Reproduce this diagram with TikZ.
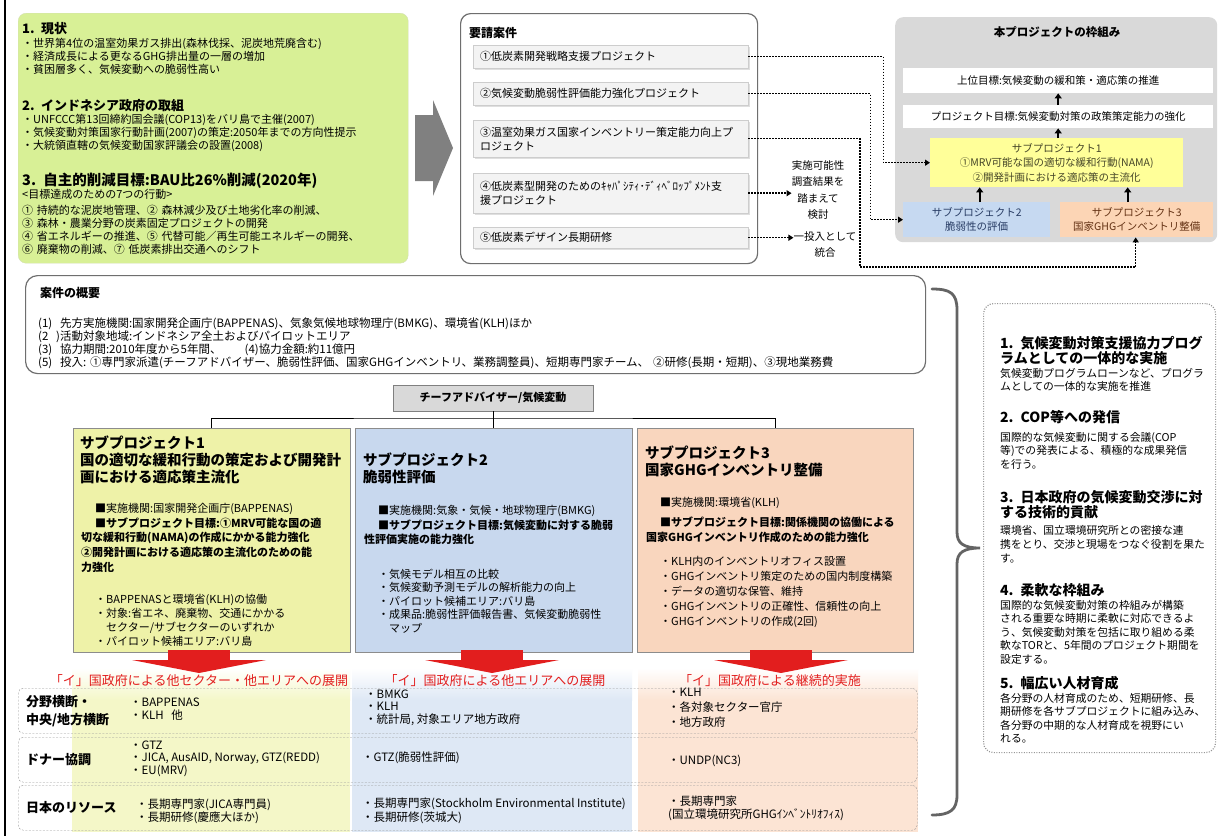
\documentclass[tikz,border=0pt]{standalone}
\usepackage{fontspec}
\setmainfont{Noto Sans CJK JP}
\usetikzlibrary{arrows.meta,calc,shadows}
\newcommand\myfs[2]{\fontsize{#1}{#2}\selectfont}
\definecolor{cGreen}{RGB}{216,240,150}
\definecolor{cArrow}{RGB}{128,128,128}
\definecolor{cReqB}{RGB}{110,110,110}
\definecolor{cItem}{RGB}{243,243,243}
\definecolor{cItemB}{RGB}{205,205,205}
\definecolor{cFw}{RGB}{217,217,217}
\definecolor{cYel}{RGB}{255,255,153}
\definecolor{cBlu}{RGB}{198,217,241}
\definecolor{cOra}{RGB}{252,213,181}
\definecolor{cYelT}{RGB}{70,70,40}
\definecolor{cBluT}{RGB}{40,60,100}
\definecolor{cOraT}{RGB}{100,50,20}
\definecolor{cSp1}{RGB}{238,242,168}
\definecolor{cSp2}{RGB}{200,216,238}
\definecolor{cSp3}{RGB}{249,214,190}
\definecolor{cSpB}{RGB}{140,140,140}
\definecolor{cT1}{RGB}{244,247,200}
\definecolor{cT2}{RGB}{222,232,245}
\definecolor{cT3}{RGB}{252,228,212}
\definecolor{cRed}{RGB}{226,30,30}
\definecolor{cBrace}{RGB}{100,100,100}
\definecolor{cDash}{RGB}{150,150,150}
\definecolor{cChief}{RGB}{217,217,217}
\begin{document}
\begin{tikzpicture}[x=1pt,y=-1pt,
 txt/.style={inner sep=0pt, align=left, anchor=base west},
 box/.style={anchor=north west, inner sep=0pt},
 dotline/.style={line width=1.5pt, dash pattern=on 1.5pt off 1.5pt, -{Triangle[length=5pt,width=6pt]}},
 uparr/.style={line width=2pt, -{Triangle[length=5pt,width=7pt]}},
 item/.style={draw=cItemB, fill=cItem, anchor=north west, align=left, inner xsep=7pt, inner ysep=0pt, text width=261pt, font=\myfs{11}{14}, drop shadow={shadow xshift=1.5pt, shadow yshift=-1.5pt, opacity=0.25}},
 fbox/.style={anchor=north west, align=center, inner sep=0pt, font=\myfs{10.5}{14}},
 hd/.style={txt, text width=380pt, font=\myfs{13}{15}\bfseries},
 bd/.style={txt, text width=385pt, font=\myfs{11}{13.3}},
 sptitle/.style={txt, text width=275pt, font=\myfs{14.5}{17}\bfseries},
 spbody/.style={txt, text width=270pt, font=\myfs{11}{14.5}},
 redtxt/.style={inner sep=0pt, text=cRed, font=\myfs{13}{15}},
 row/.style={draw=cDash, dash pattern=on 2pt off 1.5pt, rounded corners=5pt, box, minimum width=899pt, minimum height=45pt},
 lbl/.style={inner sep=0pt, anchor=west, align=left, font=\myfs{13}{18}\bfseries},
 cell/.style={inner sep=0pt, anchor=west, align=left},
 rh/.style={txt, text width=225pt, font=\myfs{14}{15.5}\bfseries},
 rbd/.style={txt, text width=225pt, font=\myfs{10.8}{13.6}},
 redarrow/.pic={\fill[cRed] (-31,0) rectangle (31,11); \fill[cRed] (-67,10) -- (67,10) -- (0,23) -- cycle;}
]
\useasboundingbox (0,0) rectangle (1221,836);
\fill[white] (0,0) rectangle (1221,836);
\draw[line width=2pt] (5,0) -- (5,836);

% situation box
\node[fill=cGreen, draw=cGreen!85!black!60, rounded corners=8pt, box, minimum width=390pt, minimum height=250pt] (sit) at (18,13) {};
\node[hd] (s1h) at (22,33) {1. 現状};
\node[bd] (s1b) at (22,47) {・世界第4位の温室効果ガス排出(森林伐採、泥炭地荒廃含む)\\・経済成長による更なるGHG排出量の一層の増加\\・貧困層多く、気候変動への脆弱性高い};
\node[hd] (s2h) at (22,110) {2. インドネシア政府の取組};
\node[bd] (s2b) at (22,123) {・UNFCCC第13回締約国会議(COP13)をバリ島で主催(2007)\\・気候変動対策国家行動計画(2007)の策定:2050年までの方向性提示\\・大統領直轄の気候変動国家評議会の設置(2008)};
\node[hd, font=\myfs{14.5}{16}\bfseries] (s3h) at (22,185) {3. 自主的削減目標:BAU比26\%削減(2020年)};
\node[bd] (s3s) at (22,198) {<目標達成のための7つの行動>};
\node[bd] (s3b) at (22,214) {① 持続的な泥炭地管理、② 森林減少及び土地劣化率の削減、\\③ 森林・農業分野の炭素固定プロジェクトの開発\\④ 省エネルギーの推進、⑤ 代替可能／再生可能エネルギーの開発、\\⑥ 廃棄物の削減、⑦ 低炭素排出交通へのシフト};

% big gray arrow
\fill[cArrow] (415,115) -- (433,115) -- (433,100) -- (453,148) -- (433,196) -- (433,181) -- (415,181) -- cycle;

% request box
\node[draw=cReqB, line width=1.2pt, rounded corners=10pt, box, minimum width=297pt, minimum height=250pt] (req) at (460,13) {};
\node[txt, text width=100pt, font=\myfs{12}{14}\bfseries] (reqt) at (469,37) {要請案件};
\node[item, minimum height=23pt] (r1) at (473,45) {①低炭素開発戦略支援プロジェクト};
\node[item, minimum height=23pt] (r2) at (473,82) {②気候変動脆弱性評価能力強化プロジェクト};
\node[item, minimum height=37pt] (r3) at (473,120) {③温室効果ガス国家インベントリー策定能力向上プ\\ロジェクト};
\node[item, minimum height=40pt] (r4) at (473,173) {④低炭素型開発のためのｷｬﾊﾟｼﾃｨ･ﾃﾞｨﾍﾞﾛｯﾌﾟﾒﾝﾄ支\\援プロジェクト};
\node[item, minimum height=21pt] (r5) at (473,227) {⑤低炭素デザイン長期研修};
\node[inner sep=0pt, align=center, font=\myfs{10.5}{16.5}] (fs) at (818,190) {実施可能性\\調査結果を\\踏まえて\\検討};
\node[inner sep=0pt, align=center, font=\myfs{10.5}{16}] (fi) at (825,245) {一投入として\\統合};

% framework box
\node[fill=cFw, rounded corners=8pt, box, minimum width=322pt, minimum height=225pt] (fw) at (895,17) {};
\node[inner sep=0pt, font=\myfs{11.5}{14}\bfseries] (fwt) at (1057,32) {本プロジェクトの枠組み};
\node[fbox, fill=white, minimum width=310pt, minimum height=25pt] (w1) at (903,68) {上位目標:気候変動の緩和策・適応策の推進};
\node[fbox, fill=white, minimum width=310pt, minimum height=23pt] (w2) at (903,105) {プロジェクト目標:気候変動対策の政策策定能力の強化};
\node[fbox, fill=cYel, minimum width=253pt, minimum height=49pt, text=cYelT, font=\myfs{10.5}{14.5}] (fy) at (930,138) {サブプロジェクト1\\①MRV可能な国の適切な緩和行動(NAMA)\\②開発計画における適応策の主流化};
\node[fbox, fill=cBlu, minimum width=147pt, minimum height=35pt, text=cBluT] (fb) at (903,202) {サブプロジェクト2\\脆弱性の評価};
\node[fbox, fill=cOra, minimum width=153pt, minimum height=35pt, text=cOraT] (fo) at (1060,202) {サブプロジェクト3\\国家GHGインベントリ整備};
\draw[uparr] (w2.north) -- (w1.south);
\draw[uparr] (fy.north -| w2.north) -- (w2.south);
\draw[uparr] ($(fb.north)+(3,0)$) -- ($(fb.north |- fy.south)+(3,0)$);
\draw[uparr] ($(fo.north)+(-9,0)$) -- ($(fo.north |- fy.south)+(-9,0)$);

% dotted connectors
\draw[dotline] (r1.east) -- ++(135,0) |- (fy.west);
\draw[dotline] (r2.east) -- ++(122,0) |- (fb.west);
\coordinate (c3) at (860,267);
\draw[dotline] (r3.east) -| (c3) -| ($(fo.south)+(-1,0)$);
\draw[dotline] (r4.east) -- (r4.east -| fs.west);
\draw[dotline] (r5.east) -- (r5.east -| fi.west);

% summary box
\node[draw=cReqB, line width=1.2pt, rounded corners=12pt, box, minimum width=900pt, minimum height=98pt] (sum) at (25,275) {};
\node[txt, text width=200pt, font=\myfs{12}{14}\bfseries] (sumt) at (40,297.5) {案件の概要};
\node[txt, text width=880pt, font=\myfs{11.5}{13}] (sumb) at (38,327) {(1)\ \ 先方実施機関:国家開発企画庁(BAPPENAS)、気象気候地球物理庁(BMKG)、環境省(KLH)ほか\\(2\ \ )活動対象地域:インドネシア全土およびパイロットエリア\\(3)\ \ 協力期間:2010年度から5年間、\hspace{2em}(4)協力金額:約11億円\\(5)\ \ 投入:\ ①専門家派遣(チーフアドバイザー、脆弱性評価、国家GHGインベントリ、業務調整員)、短期専門家チーム、\ ②研修(長期・短期)、③現地業務費};

% brace
\draw[cBrace, line width=2.8pt, line cap=round] (932,289) .. controls (950,289) and (957,293) .. (957,310) -- (957,532) .. controls (957,543) and (963,548) .. (980,548) .. controls (963,548) and (957,553) .. (957,564) -- (957,795) .. controls (957,810) and (950,815) .. (932,815);

% chief + subprojects
\node[draw=gray, fill=cChief, minimum width=200pt, minimum height=26pt, inner sep=0pt, font=\myfs{11}{13}\bfseries] (chief) at (493,398) {チーフアドバイザー/気候変動};
\node[draw=cSpB, fill=cSp1, box, minimum width=277pt, minimum height=224pt] (sp1) at (73,428) {};
\node[draw=cSpB, fill=cSp2, box, minimum width=277pt, minimum height=224pt] (sp2) at (355,428) {};
\node[draw=cSpB, fill=cSp3, box, minimum width=276pt, minimum height=224pt] (sp3) at (637,428) {};
\coordinate (bus) at (493,418);
\draw[line width=0.8pt] (chief.south) -- (chief.south |- sp2.north);
\draw[line width=0.8pt] (sp1.north) |- (bus) -| (sp3.north);

\node[sptitle] (sp1t) at (80,448) {サブプロジェクト1\\国の適切な緩和行動の策定および開発計\\画における適応策主流化};
\node[spbody] (sp1a) at (81,512) {\hspace*{14pt}■実施機関:国家開発企画庁(BAPPENAS)};
\node[spbody, font=\myfs{11}{14.8}\bfseries] (sp1b) at (81,527) {\hspace*{14pt}■サブプロジェクト目標:①MRV可能な国の適\\切な緩和行動(NAMA)の作成にかかる能力強化\\②開発計画における適応策の主流化のための能\\力強化};
\node[spbody, font=\myfs{11}{14.3}] (sp1c) at (95,603) {・BAPPENASと環境省(KLH)の協働\\・対象:省エネ、廃棄物、交通にかかる\\\hspace*{1em}セクター/サブセクターのいずれか\\・パイロット候補エリア:バリ島};

\node[sptitle] (sp2t) at (363,465) {サブプロジェクト2\\脆弱性評価};
\node[spbody] (sp2a) at (364,514) {\hspace*{14pt}■実施機関:気象・気候・地球物理庁(BMKG)};
\node[spbody, font=\myfs{11}{14.5}\bfseries] (sp2b) at (364,529) {\hspace*{14pt}■サブプロジェクト目標:気候変動に対する脆弱\\性評価実施の能力強化};
\node[spbody, font=\myfs{11}{13.5}] (sp2c) at (378,578) {・気候モデル相互の比較\\・気候変動予測モデルの解析能力の向上\\・パイロット候補エリア:バリ島\\・成果品:脆弱性評価報告書、気候変動脆弱性\\\hspace*{1em}マップ};

\node[sptitle] (sp3t) at (645,458) {サブプロジェクト3\\国家GHGインベントリ整備};
\node[spbody] (sp3a) at (646,506) {\hspace*{14pt}■実施機関:環境省(KLH)};
\node[spbody, font=\myfs{11}{15}\bfseries] (sp3b) at (646,526) {\hspace*{14pt}■サブプロジェクト目標:関係機関の協働による\\国家GHGインベントリ作成のための能力強化};
\node[spbody, font=\myfs{11}{15}] (sp3c) at (660,565) {・KLH内のインベントリオフィス設置\\・GHGインベントリ策定のための国内制度構築\\・データの適切な保管、維持\\・GHGインベントリの正確性、信頼性の向上\\・GHGインベントリの作成(2回)};

% table column fills
\shade[top color=white, bottom color=cT1] (72,668) rectangle (350,700);
\fill[cT1] (72,700) rectangle (350,832);
\shade[top color=white, bottom color=cT2] (352,668) rectangle (632,700);
\fill[cT2] (352,700) rectangle (632,832);
\shade[top color=white, bottom color=cT3] (638,668) rectangle (918,700);
\fill[cT3] (638,700) rectangle (918,832);

% red arrows and texts
\pic (ra1) at (199,650) {redarrow};
\pic (ra2) at (492,650) {redarrow};
\pic (ra3) at (781,650) {redarrow};
\node[redtxt] (rt1) at (199,681) {「イ」国政府による他セクター・他エリアへの展開};
\node[redtxt] (rt2) at (495,681) {「イ」国政府による他エリアへの展開};
\node[redtxt] (rt3) at (770,681) {「イ」国政府による継続的実施};

% table rows
\node[row] (t1) at (18,688) {};
\node[row] (t2) at (18,737) {};
\node[row] (t3) at (18,785) {};
\node[lbl] (l1) at ($(t1.west)+(8,0)$) {分野横断・\\中央/地方横断};
\node[lbl] (l2) at ($(t2.west)+(8,0)$) {ドナー協調};
\node[lbl] (l3) at ($(t3.west)+(8,0)$) {日本のリソース};
\node[cell, font=\myfs{11.5}{13}] (c11) at ($(t1.west)+(112,-2)$) {・BAPPENAS\\・KLH\ \ \ 他};
\node[cell, font=\myfs{11.5}{12.5}] (c12) at ($(t1.west)+(347,-3)$) {・BMKG\\・KLH\\・統計局, 対象エリア地方政府};
\node[cell, font=\myfs{11.5}{15}] (c13) at ($(t1.west)+(650,-3)$) {・KLH\\・各対象セクター官庁\\・地方政府};
\node[cell, font=\myfs{11.5}{12}] (c21) at ($(t2.west)+(112,-1)$) {・GTZ\\・JICA, AusAID, Norway, GTZ(REDD)\\・EU(MRV)};
\node[cell, font=\myfs{11.5}{13}] (c22) at ($(t2.west)+(344,-2)$) {・GTZ(脆弱性評価)};
\node[cell, font=\myfs{11.5}{13}] (c23) at ($(t2.west)+(650,1)$) {・UNDP(NC3)};
\node[cell, font=\myfs{11.5}{13}] (c31) at ($(t3.west)+(118,4)$) {・長期専門家(JICA専門員)\\・長期研修(慶應大ほか)};
\node[cell, font=\myfs{11.5}{13.5}] (c32) at ($(t3.west)+(344,3)$) {・長期専門家(Stockholm Environmental Institute)\\・長期研修(茨城大)};
\node[cell, font=\myfs{11.5}{13}] (c33) at ($(t3.west)+(650,1)$) {・長期専門家\\(国立環境研究所GHGｲﾝﾍﾞﾝﾄﾘｵﾌｨｽ)};

% right dotted box
\node[draw=cDash, line width=1.2pt, dash pattern=on 1pt off 1.5pt, rounded corners=10pt, box, minimum width=232pt, minimum height=449pt] (rbx) at (983,303) {};
\node[rh] (rh1) at (1000,348) {1. 気候変動対策支援協力プログ\\ラムとしての一体的な実施};
\node[rbd] (rb1) at (1000,377) {気候変動プログラムローンなど、プログラ\\ムとしての一体的な実施を推進};
\node[rh] (rh2) at (1000,422) {2. COP等への発信};
\node[rbd] (rb2) at (1000,441) {国際的な気候変動に関する会議(COP\\等)での発表による、積極的な成果発信\\を行う。};
\node[rh] (rh3) at (1000,502) {3. 日本政府の気候変動交渉に対\\する技術的貢献};
\node[rbd, font=\myfs{10.8}{14}] (rb3) at (1000,534) {環境省、国立環境研究所との密接な連\\携をとり、交渉と現場をつなぐ役割を果た\\す。};
\node[rh] (rh4) at (1000,595) {4. 柔軟な枠組み};
\node[rbd, font=\myfs{10.8}{13.5}] (rb4) at (1000,609) {国際的な気候変動対策の枠組みが構築\\される重要な時期に柔軟に対応できるよ\\う、気候変動対策を包括に取り組める柔\\軟なTORと、5年間のプロジェクト期間を\\設定する。};
\node[rh] (rh5) at (1000,688) {5. 幅広い人材育成};
\node[rbd, font=\myfs{10.8}{13.5}] (rb5) at (1000,702) {各分野の人材育成のため、短期研修、長\\期研修を各サブプロジェクトに組み込み、\\各分野の中期的な人材育成を視野にい\\れる。};
\end{tikzpicture}
\end{document}
